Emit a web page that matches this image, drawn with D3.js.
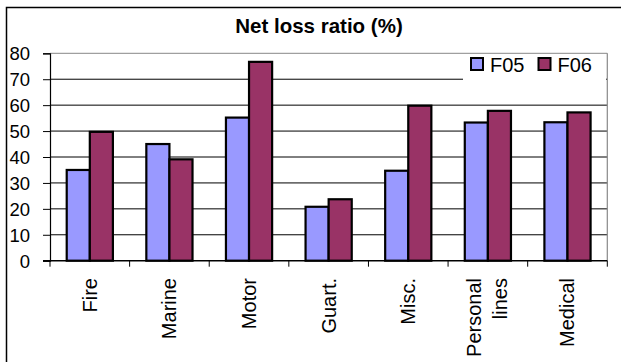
<!DOCTYPE html>
<html><head><meta charset="utf-8">
<script src="https://cdn.jsdelivr.net/npm/d3@7"></script>
<style>body{margin:0;background:#fff}svg{display:block;font-family:Arial,"Liberation Sans",sans-serif}</style>
</head><body><svg id="c" width="621" height="362"></svg>
<script>
const categories = ["Fire","Marine","Motor","Guart.","Misc.","Personal lines","Medical"];
const categoryLines = [["Fire"],["Marine"],["Motor"],["Guart."],["Misc."],["Personal","lines"],["Medical"]];
const seriesNames = ["F05","F06"];
const f05 = [35, 45, 55.2, 20.8, 34.7, 53.3, 53.4];
const f06 = [49.7, 39.1, 76.7, 23.7, 59.8, 57.8, 57.2];
const yTicks = [0,10,20,30,40,50,60,70,80];
const colors = ["#9999FF","#993366"];
const titleText = "Net loss ratio (%)";

(function(){
const svg = d3.select("#c");
svg.append("rect").attr("x",6.5).attr("y",7.5).attr("width",640).attr("height",400)
  .attr("fill","#fff").attr("stroke","#000").attr("stroke-width",1.5);

const pL=50, pR=607.3, pT=53.3, pB=260.7;
const x = d3.scaleBand().domain(categories).range([pL,pR]);
const bw = x.bandwidth();
const x1 = d3.scaleBand().domain(seriesNames).range([bw*0.21, bw*0.79]);
const y = d3.scaleLinear().domain([0,80]).range([pB,pT]);

svg.append("g").selectAll("line").data(yTicks.filter(t=>t>0)).join("line")
  .attr("x1",pL).attr("x2",pR).attr("y1",d=>y(d)).attr("y2",d=>y(d))
  .attr("stroke",d=>d===80?"#888":"#000").attr("stroke-width",1);
svg.append("line").attr("x1",pR).attr("x2",pR).attr("y1",pT).attr("y2",pB)
  .attr("stroke","#888").attr("stroke-width",1.2);

const data = categories.map((c,i)=>({c, vals:[f05[i],f06[i]]}));
svg.append("g").selectAll("g").data(data).join("g")
  .attr("transform",d=>`translate(${x(d.c)},0)`)
  .selectAll("rect").data(d=>d.vals.map((v,j)=>({s:seriesNames[j],v,j}))).join("rect")
  .attr("x",d=>x1(d.s)).attr("width",x1.bandwidth())
  .attr("y",d=>y(d.v)).attr("height",d=>pB-y(d.v))
  .attr("fill",d=>colors[d.j]).attr("stroke","#000").attr("stroke-width",2.2);

const ya = svg.append("g").attr("transform",`translate(${pL},0)`)
  .call(d3.axisLeft(y).tickValues(yTicks).tickSize(7).tickPadding(13));
ya.select(".domain").attr("stroke","#000").attr("stroke-width",1.2);
ya.selectAll(".tick line").attr("stroke","#000");
ya.selectAll(".tick text").attr("font-size",18.5).attr("fill","#000").attr("font-family","Arial,'Liberation Sans',sans-serif").attr("dy","0.36em");

const xa = svg.append("g").attr("transform",`translate(0,${pB})`);
xa.append("line").attr("x1",pL-7).attr("x2",pR).attr("stroke","#000").attr("stroke-width",1.5);
const bounds = categories.map(c=>x(c)).concat([pR]);
xa.selectAll("line.t").data(bounds).join("line").attr("class","t")
  .attr("x1",d=>d).attr("x2",d=>d).attr("y1",0).attr("y2",6).attr("stroke","#000");
xa.selectAll("text").data(categories).join("text")
  .attr("transform",(c,i)=>`translate(${x(c)+bw/2 + 7 - (categoryLines[i].length-1)*14},${278-pB}) rotate(-90)`)
  .attr("text-anchor","end").attr("font-size",20).attr("fill","#000")
  .each(function(c,i){
    d3.select(this).selectAll("tspan").data(categoryLines[i]).join("tspan")
      .attr("x",0).attr("dy",(d,k)=>k===0?0:"1.3em")
      .text(d=>d);
  });

svg.append("text").attr("x",319).attr("y",33).attr("text-anchor","middle")
  .attr("font-weight","bold").attr("font-size",20.5).text(titleText);

const lg = svg.append("g");
lg.append("rect").attr("x",463).attr("y",54).attr("width",143).attr("height",26).attr("fill","#fff");
const legX = [471, 538.5];
seriesNames.forEach((s,i)=>{
  lg.append("rect").attr("x",legX[i]).attr("y",58).attr("width",12).attr("height",12)
    .attr("fill",colors[i]).attr("stroke","#000").attr("stroke-width",2);
  lg.append("text").attr("x",legX[i]+19).attr("y",71.5).attr("font-size",20).text(s);
});
})();
</script></body></html>
